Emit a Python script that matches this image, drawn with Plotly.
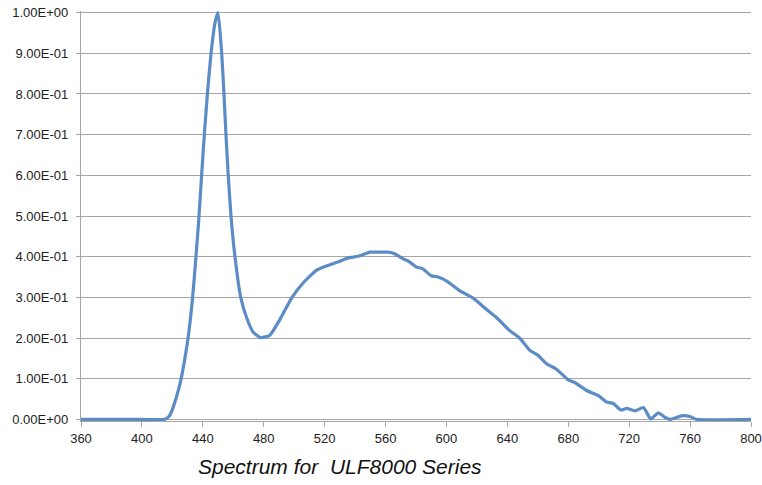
import plotly.graph_objects as go

wavelength = [360, 400, 415, 418, 421, 425.5, 428, 430.5, 433.3, 435.5, 437.5, 439.2, 441, 443,
              445.4, 448, 450, 452.4, 453.9, 455.2, 456.7, 458.5, 461.1, 464.9, 468.8, 473, 478,
              484, 490.7, 498.4, 506, 514.8, 523.5, 530, 535.5, 542, 549.8, 556, 562, 566, 571,
              575, 580, 584.5, 590, 594.5, 600.2, 608.9, 617.6, 626.4, 633, 641, 648, 655, 660,
              666, 672, 680, 684.5, 692, 700, 705, 709.6, 714.4, 718.4, 723.8, 729.3, 734.2,
              739.1, 744, 746.8, 752, 755.5, 759.9, 764.3, 800]
intensity = [0, 0, 0, 0.008, 0.035, 0.095, 0.145, 0.205, 0.3, 0.4, 0.5, 0.6, 0.7, 0.8,
             0.9, 0.975, 1.0, 0.9, 0.8, 0.7, 0.6, 0.5, 0.4, 0.3, 0.25, 0.215, 0.201,
             0.207, 0.246, 0.299, 0.336, 0.367, 0.380, 0.389, 0.397, 0.401, 0.411, 0.411, 0.411, 0.407, 0.396,
             0.389, 0.375, 0.370, 0.353, 0.350, 0.340, 0.316, 0.298, 0.270, 0.250, 0.220, 0.200, 0.169, 0.158,
             0.136, 0.124, 0.097, 0.090, 0.071, 0.058, 0.043, 0.039, 0.023, 0.027, 0.021, 0.029, 0.001,
             0.016, 0.004, 0.0, 0.006, 0.009, 0.007, 0.0, 0]

x_ticks = [360, 400, 440, 480, 520, 560, 600, 640, 680, 720, 760, 800]
y_ticks = [0, 0.1, 0.2, 0.3, 0.4, 0.5, 0.6, 0.7, 0.8, 0.9, 1.0]
y_tick_labels = ["0.00E+00", "1.00E-01", "2.00E-01", "3.00E-01", "4.00E-01", "5.00E-01",
                 "6.00E-01", "7.00E-01", "8.00E-01", "9.00E-01", "1.00E+00"]
title_text = "Spectrum for  ULF8000 Series"

fig = go.Figure()
fig.add_trace(go.Scatter(
    x=wavelength, y=intensity, mode="lines",
    line=dict(color="#5B8CC6", width=3.2, shape="spline", smoothing=0.5),
    hoverinfo="skip", showlegend=False,
))

grid = "#A6A6A6"
fig.update_layout(
    width=762, height=485,
    margin=dict(l=81, r=11, t=11, b=64, autoexpand=False),
    paper_bgcolor="white", plot_bgcolor="white",
    font=dict(family="Liberation Sans, Arial, sans-serif", size=13, color="#222222"),
    xaxis=dict(
        range=[360, 800], tickvals=x_ticks, ticktext=[str(v) for v in x_ticks],
        showgrid=False, zeroline=False, showline=True, linecolor=grid, linewidth=1.2,
        ticks="outside", ticklen=5, tickcolor=grid, tickwidth=1,
        tickfont=dict(size=13), automargin=False,
    ),
    yaxis=dict(
        range=[-0.004, 1.004], tickvals=y_ticks, ticktext=y_tick_labels,
        showgrid=True, gridcolor=grid, gridwidth=1.2, zeroline=False,
        showline=True, linecolor=grid, linewidth=1.2,
        ticks="outside", ticklen=4, tickcolor=grid, tickwidth=1,
        tickfont=dict(size=13), automargin=False, ticklabelstandoff=5,
    ),
    annotations=[dict(
        text=title_text, xref="paper", yref="paper", x=0.387, y=-0.112,
        xanchor="center", yanchor="middle", showarrow=False,
        font=dict(family="Liberation Sans, Arial, sans-serif", size=21, color="#111111",
                  style="italic"),
    )],
)

fig.write_html(
    "out.html",
    config={"displayModeBar": False},
    post_script="document.body.style.margin='0';document.body.style.overflow='hidden';",
)
